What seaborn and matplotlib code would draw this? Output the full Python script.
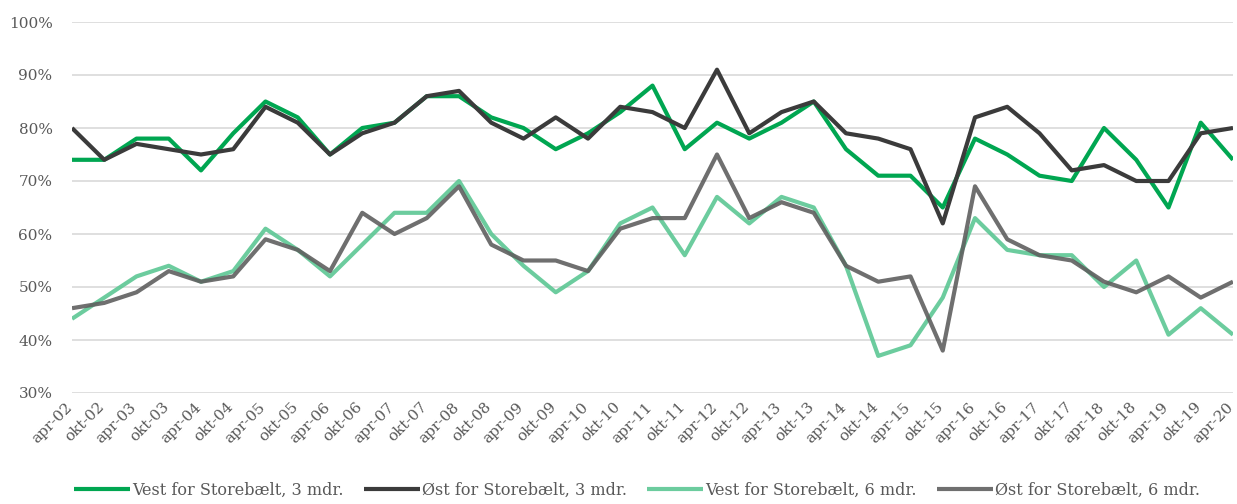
import numpy as np
import pandas as pd
import matplotlib
matplotlib.use("Agg")
import matplotlib.pyplot as plt
import matplotlib.transforms as mtransforms
import seaborn as sns
from matplotlib.ticker import PercentFormatter

# half-year periods apr-02 .. apr-20
periods = ['apr-02', 'okt-02', 'apr-03', 'okt-03', 'apr-04', 'okt-04', 'apr-05', 'okt-05',
           'apr-06', 'okt-06', 'apr-07', 'okt-07', 'apr-08', 'okt-08', 'apr-09', 'okt-09',
           'apr-10', 'okt-10', 'apr-11', 'okt-11', 'apr-12', 'okt-12', 'apr-13', 'okt-13',
           'apr-14', 'okt-14', 'apr-15', 'okt-15', 'apr-16', 'okt-16', 'apr-17', 'okt-17',
           'apr-18', 'okt-18', 'apr-19', 'okt-19', 'apr-20']

vest_3 = [74, 74, 78, 78, 72, 79, 85, 82, 75, 80, 81, 86, 86, 82, 80, 76, 79, 83, 88,
          76, 81, 78, 81, 85, 76, 71, 71, 65, 78, 75, 71, 70, 80, 74, 65, 81, 74]
oest_3 = [80, 74, 77, 76, 75, 76, 84, 81, 75, 79, 81, 86, 87, 81, 78, 82, 78, 84, 83,
          80, 91, 79, 83, 85, 79, 78, 76, 62, 82, 84, 79, 72, 73, 70, 70, 79, 80]
vest_6 = [44, 48, 52, 54, 51, 53, 61, 57, 52, 58, 64, 64, 70, 60, 54, 49, 53, 62, 65,
          56, 67, 62, 67, 65, 54, 37, 39, 48, 63, 57, 56, 56, 50, 55, 41, 46, 41]
oest_6 = [46, 47, 49, 53, 51, 52, 59, 57, 53, 64, 60, 63, 69, 58, 55, 55, 53, 61, 63,
          63, 75, 63, 66, 64, 54, 51, 52, 38, 69, 59, 56, 55, 51, 49, 52, 48, 51]

names = ['Vest for Storebælt, 3 mdr.', 'Øst for Storebælt, 3 mdr.',
         'Vest for Storebælt, 6 mdr.', 'Øst for Storebælt, 6 mdr.']
colors = ['#00a651', '#3b3b3b', '#5cc794', '#5f5f5f']
alphas = [1.0, 1.0, 0.9, 0.9]

df = pd.DataFrame({'pos': np.arange(len(periods)),
                   names[0]: vest_3, names[1]: oest_3,
                   names[2]: vest_6, names[3]: oest_6})
long_df = df.melt(id_vars='pos', var_name='serie', value_name='andel')

sns.set_style('white')
plt.rcParams['font.family'] = ['DejaVu Serif']

fig = plt.figure(figsize=(12.37, 5.04), dpi=100)
ax = fig.add_axes([72 / 1237, 111 / 504, 1161 / 1237, 371 / 504])

for name, col, a in zip(names, colors, alphas):
    sub = long_df[long_df['serie'] == name]
    sns.lineplot(data=sub, x='pos', y='andel', ax=ax, color=col, alpha=a,
                 linewidth=3.0, label=name, solid_capstyle='butt')

ax.set_xlim(0, len(periods) - 1)
ax.set_ylim(30, 100)
ax.set_yticks(range(30, 101, 10))
ax.yaxis.set_major_formatter(PercentFormatter(decimals=0))
ax.set_xticks(range(len(periods)))
ax.set_xticklabels(periods, rotation=45, ha='right', rotation_mode='anchor')
ax.tick_params(axis='both', length=0, labelsize=11, labelcolor='#595959')
ax.tick_params(axis='y', pad=14)
ax.tick_params(axis='x', pad=5)
# pull the rotated labels a little left so the last one stays inside
shift = mtransforms.ScaledTranslation(-5 / 72, 0, fig.dpi_scale_trans)
for lbl in ax.get_xticklabels():
    lbl.set_transform(lbl.get_transform() + shift)
ax.grid(axis='y', color='#d9d9d9', linewidth=1.2)
ax.set_axisbelow(True)
ax.set_xlabel('')
ax.set_ylabel('')
for s in ax.spines.values():
    s.set_visible(False)

handles, labels = ax.get_legend_handles_labels()
ax.get_legend().remove()
leg = fig.legend(handles, labels, loc='lower center', ncol=4, frameon=False,
                 bbox_to_anchor=(0.515, -0.018), handlelength=3.5, columnspacing=1.25,
                 handletextpad=0.15, fontsize=11.5)
for t in leg.get_texts():
    t.set_color('#595959')

fig.savefig('out.png', dpi=100)
